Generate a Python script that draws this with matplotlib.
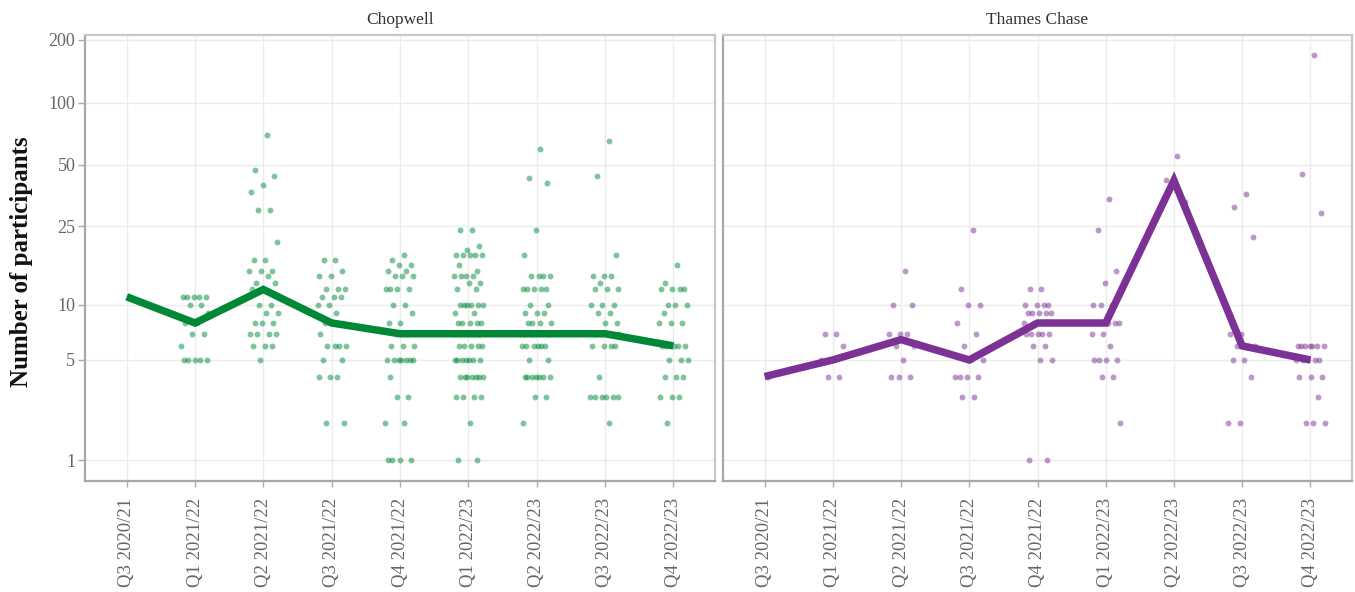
import numpy as np
import matplotlib
matplotlib.use("Agg")
import matplotlib.pyplot as plt
from matplotlib.ticker import FixedLocator, FixedFormatter, NullLocator

plt.rcParams['font.family'] = ['Liberation Serif', 'DejaVu Serif']

quarters = ["Q3 2020/21", "Q1 2021/22", "Q2 2021/22", "Q3 2021/22", "Q4 2021/22",
            "Q1 2022/23", "Q2 2022/23", "Q3 2022/23", "Q4 2022/23"]

chopwell_q3_2021 = [11]
chopwell_q1_2122 = [11, 11, 11, 11, 11, 10, 10, 9, 8, 8, 7, 7, 6, 5, 5, 5, 5, 5]
chopwell_q2_2122 = [70, 47, 44, 40, 37, 30, 30, 21, 17, 17, 15, 15, 15, 14, 13, 13, 12, 12,
                    10, 10, 9, 9, 8, 8, 8, 7, 7, 7, 7, 6, 6, 6, 5]
chopwell_q3_2122 = [17, 17, 15, 14, 14, 12, 12, 12, 11, 11, 11, 10, 10, 9, 8, 8, 8, 7,
                    6, 6, 6, 6, 5, 5, 4, 4, 4, 2, 2]
chopwell_q4_2122 = [18, 17, 16, 16, 15, 15, 14, 14, 14, 12, 12, 12, 12, 10, 10, 9, 8, 8, 7, 7,
                    6, 6, 6, 5, 5, 5, 5, 5, 5, 5, 4, 3, 3, 2, 2, 1, 1, 1, 1]
chopwell_q1_2223 = [24, 24, 20, 19, 18, 18, 18, 18, 18, 16, 15, 14, 14, 14, 14, 13, 13, 12, 12,
                    10, 10, 10, 10, 10, 10, 9, 9, 8, 8, 8, 8, 8, 7, 7, 7, 7, 7, 7, 7, 7,
                    6, 6, 6, 6, 6, 5, 5, 5, 5, 5, 5, 5, 4, 4, 4, 4, 4, 4, 4, 3, 3, 3, 3, 2, 1, 1]
chopwell_q2_2223 = [60, 43, 41, 24, 18, 14, 14, 14, 14, 12, 12, 12, 12, 12, 10, 10, 9, 9, 9,
                    8, 8, 8, 8, 7, 7, 7, 7, 7, 7, 6, 6, 6, 6, 6, 6, 5, 5,
                    4, 4, 4, 4, 4, 4, 4, 3, 3, 2]
chopwell_q3_2223 = [65, 44, 18, 14, 14, 14, 13, 12, 12, 12, 10, 10, 10, 9, 9, 8, 8,
                    7, 7, 7, 7, 7, 7, 6, 6, 6, 6, 4, 3, 3, 3, 3, 3, 3, 2]
chopwell_q4_2223 = [16, 13, 12, 12, 12, 12, 10, 10, 10, 9, 8, 8, 8, 6, 6, 6, 6, 6,
                    5, 5, 5, 4, 4, 4, 3, 3, 3, 2]

thames_q3_2021 = [4]
thames_q1_2122 = [7, 7, 6, 5, 5, 4, 4]
thames_q2_2122 = [15, 10, 10, 7, 7, 7, 6, 6, 5, 4, 4, 4]
thames_q3_2122 = [24, 12, 10, 10, 8, 7, 6, 5, 5, 4, 4, 4, 4, 3, 3]
thames_q4_2122 = [12, 12, 10, 10, 10, 10, 9, 9, 9, 9, 9, 8, 8, 7, 7, 7, 7, 7, 6, 6, 5, 5, 1, 1]
thames_q1_2223 = [34, 24, 15, 13, 10, 10, 10, 8, 8, 8, 8, 7, 7, 6, 5, 5, 5, 5, 4, 4, 2]
thames_q2_2223 = [55, 42, 33]
thames_q3_2223 = [36, 31, 22, 7, 7, 6, 6, 6, 5, 5, 4, 2, 2]
thames_q4_2223 = [170, 45, 29, 6, 6, 6, 6, 6, 6, 6, 5, 5, 5, 5, 5, 4, 4, 4, 3, 2, 2, 2]

chopwell = [chopwell_q3_2021, chopwell_q1_2122, chopwell_q2_2122, chopwell_q3_2122,
            chopwell_q4_2122, chopwell_q1_2223, chopwell_q2_2223, chopwell_q3_2223,
            chopwell_q4_2223]
thames = [thames_q3_2021, thames_q1_2122, thames_q2_2122, thames_q3_2122, thames_q4_2122,
          thames_q1_2223, thames_q2_2223, thames_q3_2223, thames_q4_2223]

y_ticks = [1, 5, 10, 25, 50, 100, 200]

GREEN = "#008837"
PURPLE = "#7b3294"


def fwd(v):
    v = np.asarray(v, dtype=float)
    return np.log10(1 + np.clip(v, -0.999, None))


def inv(y):
    return 10 ** np.asarray(y, dtype=float) - 1


W, H = 1355, 592
fig = plt.figure(figsize=(W / 100, H / 100), dpi=100)
top, bot = 35, 481
ax1 = fig.add_axes([85 / W, 1 - bot / H, (715 - 85) / W, (bot - top) / H])
ax2 = fig.add_axes([723 / W, 1 - bot / H, (1352 - 723) / W, (bot - top) / H])

for ax, data, color, title, show_y in [(ax1, chopwell, GREEN, "Chopwell", True),
                                       (ax2, thames, PURPLE, "Thames Chase", False)]:
    ax.set_yscale('function', functions=(fwd, inv))
    ax.set_ylim(0.59, 211)
    ax.set_xlim(-0.61, len(quarters) - 1 + 0.61)
    for i, vals in enumerate(data):
        n = len(vals)
        offs = np.array([(((j + 1) * 0.6180339887) % 1.0 - 0.5) * 0.44 for j in range(n)])
        ax.scatter(i + offs, vals, s=18, color=color, alpha=0.5, linewidths=0, zorder=3)
    med = [np.median(v) for v in data]
    ax.plot(range(len(quarters)), med, color=color, lw=5.4, zorder=4,
            solid_joinstyle='miter', solid_capstyle='butt')
    ax.yaxis.set_major_locator(FixedLocator(y_ticks))
    ax.yaxis.set_minor_locator(NullLocator())
    ax.set_xticks(range(len(quarters)))
    ax.set_xticklabels(quarters, rotation=90, fontsize=13.5, color="#666666")
    ax.grid(True, color="#ececec", lw=1.0, zorder=0)
    ax.set_axisbelow(True)
    ax.tick_params(axis='x', length=4, width=1, color="#aaaaaa", pad=8)
    if show_y:
        ax.yaxis.set_major_formatter(FixedFormatter([str(t) for t in y_ticks]))
        ax.tick_params(axis='y', length=5, width=1, color="#aaaaaa", pad=2,
                       labelsize=13, labelcolor="#666666")
    else:
        ax.tick_params(axis='y', length=0, labelleft=False)
    for side in ['left', 'bottom']:
        ax.spines[side].set_color("#a8a8a8")
        ax.spines[side].set_linewidth(1.6)
    for side in ['top', 'right']:
        ax.spines[side].set_color("#c8c8c8")
        ax.spines[side].set_linewidth(1.6)
    ax.set_title(title, fontsize=12.5, color="#333333", pad=8)

fig.text(22 / W, 1 - 262 / H, "Number of participants", rotation=90, ha='center',
         va='center', fontsize=18, fontweight='bold', color="#111111")

fig.savefig("out.png", dpi=100)
